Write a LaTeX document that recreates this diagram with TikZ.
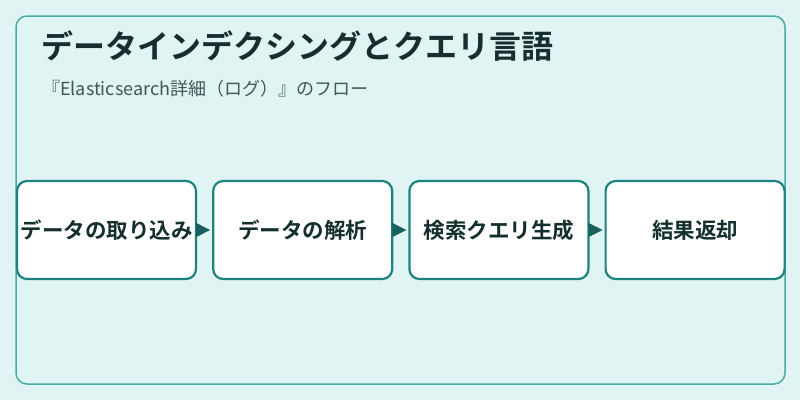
\documentclass[tikz,border=0pt]{standalone}
\usepackage{fontspec}
\setmainfont{Noto Sans CJK JP}[BoldFont={Noto Sans CJK JP Bold}]
\usetikzlibrary{arrows.meta,positioning}
\definecolor{bgmint}{HTML}{E0F4F3}
\definecolor{frameteal}{HTML}{4AABA9}
\definecolor{boxteal}{HTML}{1D837F}
\definecolor{tipteal}{HTML}{17605E}
\definecolor{inkdark}{HTML}{142F2E}
\definecolor{inkgray}{HTML}{3D5958}

\begin{document}
\begin{tikzpicture}[
  x=1pt, y=-1pt, line join=round,
  frame/.style ={draw=frameteal, line width=1.5pt, rounded corners=11pt},
  stepbox/.style={draw=boxteal, fill=white, line width=2.2pt, rounded corners=10pt,
                  minimum width=179pt, minimum height=98pt, inner sep=0pt,
                  text=inkdark, font=\fontsize{21.5}{25}\selectfont\bfseries},
  flow/.style  ={tipteal, line width=1pt, shorten >=2pt,
                 -{Triangle[length=14pt,width=14pt]}},
  every node/.style={inner sep=0pt}
]

\def\W{800}   % canvas width
\def\H{400}   % canvas height
\def\gap{15pt} % space between boxes (outer sep adds the rest)

% background and outer frame
\fill[bgmint] (0,0) rectangle (\W,\H);
\useasboundingbox (0,0) rectangle (\W,\H);
\draw[frame] (16,16) rectangle (785,384);

% heading
\node[anchor=west, text=inkdark, font=\fontsize{32}{36}\selectfont\bfseries]
  (title) at (41,46) {データインデクシングとクエリ言語};
\node[anchor=west, text=inkgray, font=\fontsize{18}{21}\selectfont]
  (subtitle) at (42,89) {『Elasticsearch詳細（ログ）』のフロー};

% flow
\node[stepbox] (ingest) at (106.5,230) {データの取り込み};
\node[stepbox, right=\gap of ingest] (parse)  {データの解析};
\node[stepbox, right=\gap of parse]  (query)  {検索クエリ生成};
\node[stepbox, right=\gap of query]  (result) {結果返却};

\foreach \a/\b in {ingest/parse, parse/query, query/result}
  \draw[flow] (\a.east) -- (\b.west);

\end{tikzpicture}
\end{document}
